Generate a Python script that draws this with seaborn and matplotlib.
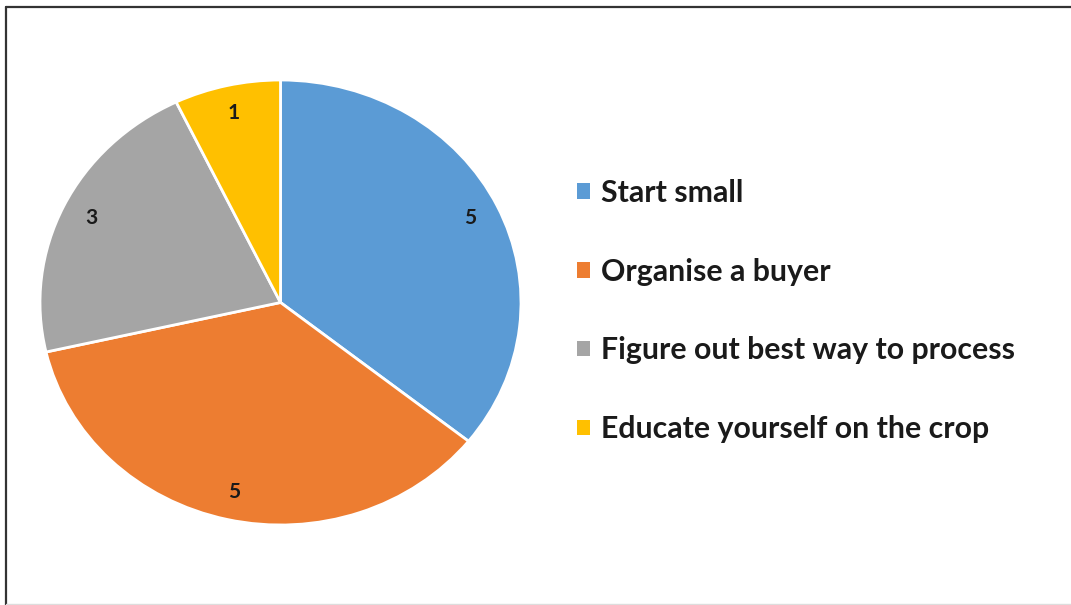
import matplotlib
matplotlib.use("Agg")
import matplotlib.pyplot as plt
from matplotlib.lines import Line2D
import seaborn as sns

categories = ["Start small", "Organise a buyer",
              "Figure out best way to process", "Educate yourself on the crop"]
counts = [5, 5, 3, 1]
colors = ["#5B9BD5", "#ED7D31", "#A5A5A5", "#FFC000"]

sns.set_theme(style="white")
plt.rcParams["font.family"] = ["Lato", "DejaVu Sans"]

W, H = 1071, 605
fig = plt.figure(figsize=(W / 100, H / 100), dpi=100)
fig.patch.set_facecolor("white")

# pie occupies a slightly wide ellipse on the left
ax = fig.add_axes([40 / W, 1 - 525 / H, 481 / W, 445 / H])
total = sum(counts)
wedges, _, autotexts = ax.pie(
    counts,
    colors=colors,
    startangle=90,
    counterclock=False,
    autopct=lambda p: f"{round(p * total / 100)}",
    pctdistance=0.875,
    wedgeprops=dict(edgecolor="white", linewidth=2.0),
    textprops=dict(fontsize=15, fontweight="bold", color="#1a1a1a"),
)
ax.set_aspect("auto")
ax.set_xlim(-1, 1)
ax.set_ylim(-1, 1)
ax.axis("off")

leg = fig.legend(
    wedges, categories,
    loc="center left",
    bbox_to_anchor=(550 / W, 1 - 311 / H),
    frameon=False,
    handlelength=0.42, handleheight=0.42, handletextpad=0.35,
    labelspacing=1.68,
    prop=dict(family=["Lato", "DejaVu Sans"], weight="bold", size=21.8),
)
for h in leg.legend_handles:
    h.set_edgecolor("none")
for t in leg.get_texts():
    t.set_color("#1a1a1a")

# outer frame (left and top edges)
fig.add_artist(Line2D([5.5 / W, 5.5 / W], [0, 1 - 7 / H], color="#333333", lw=1.6))
fig.add_artist(Line2D([5.5 / W, 1], [1 - 7 / H, 1 - 7 / H], color="#333333", lw=1.6))
fig.add_artist(Line2D([5.5 / W, 1], [1 - 603.5 / H, 1 - 603.5 / H], color="#dddddd", lw=1.0))

fig.savefig("out.png", dpi=100, facecolor="white")
